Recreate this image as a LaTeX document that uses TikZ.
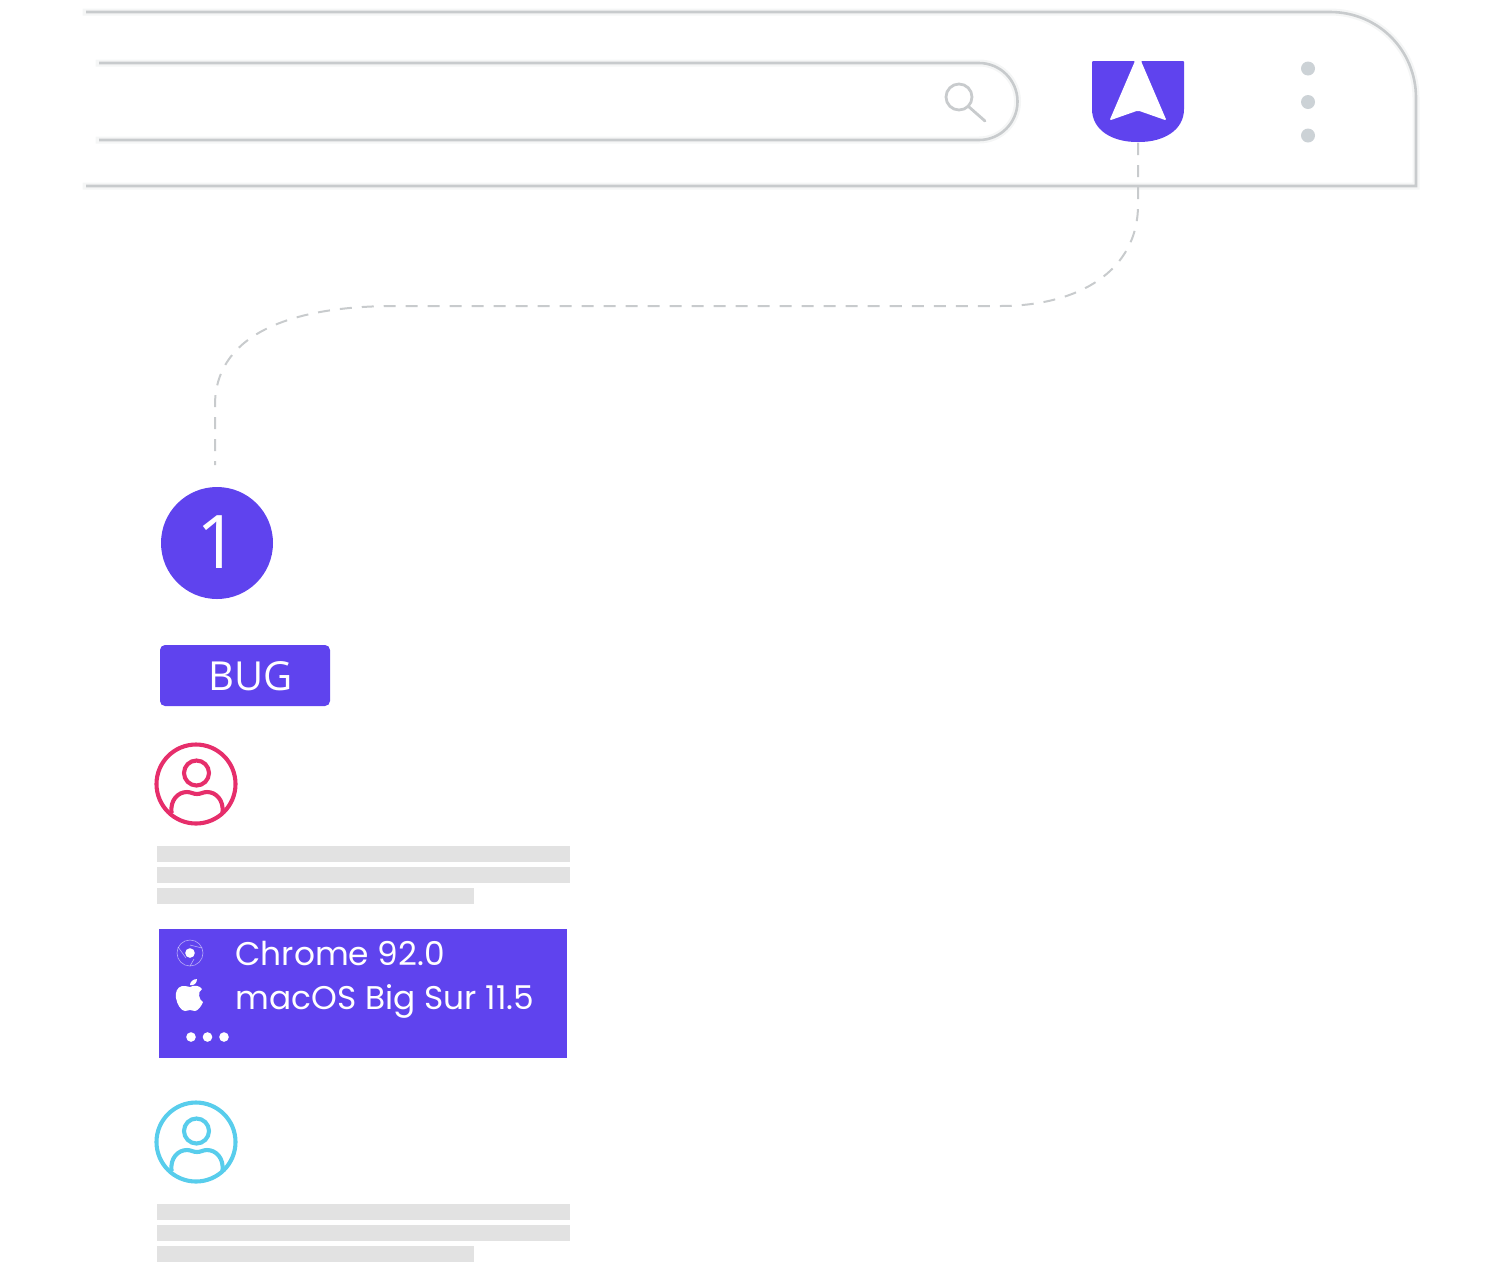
\documentclass[tikz,border=0pt]{standalone}
\usepackage{fontspec}
\setmainfont{Poppins}
\newfontfamily\tagfont{Open Sans}
\usetikzlibrary{positioning,calc}
\definecolor{bugpurple}{RGB}{95, 67, 238}
\definecolor{framegray}{RGB}{200, 203, 205}
\definecolor{halogray}{RGB}{245, 246, 246}
\definecolor{dotgray}{RGB}{204, 210, 214}
\definecolor{linegray}{RGB}{226, 226, 226}
\definecolor{reporterpink}{RGB}{230, 46, 107}
\definecolor{devblue}{RGB}{88, 205, 236}
\tikzset{
  frameline/.style={draw=framegray, line width=2.6pt, preaction={draw=halogray, line width=7pt, line cap=rect}},
  iconline/.style={draw=framegray, line width=2.8pt},
  menudot/.style={circle, fill=dotgray, minimum size=14pt, inner sep=0pt},
  whitedot/.style={circle, fill=white, minimum size=9.6pt, inner sep=0pt},
  textbar/.style={fill=linegray},
  envtext/.style={anchor=base west, text=white, font=\fontsize{32.8}{32.8}\selectfont},
  avatarline/.style={line width=4.1pt, fill=none}
}
\begin{document}
\begin{tikzpicture}[x=1pt, y=-1pt]
\useasboundingbox (0,0) rectangle (1509,1270);

% Browser frame
\draw[frameline] (86,12) -- (1330,12) .. controls (1378,12) and (1416,50) .. (1416,98) -- (1416,186) -- (86,186);

% Search field
\draw[frameline] (99,63) -- (979,63) arc[start angle=-90, end angle=90, radius=38.5] -- (99,140);
\draw[iconline] (959,97) circle[radius=13];
\draw[iconline, line cap=round] (968.5,106.5) -- (985,121);

% Logo
\node[minimum width=92pt, minimum height=82pt, inner sep=0pt] (logo) at (1138,102) {};
\fill[bugpurple, rounded corners=1pt] (1092,61) -- (1184,61) -- (1184,108) .. controls (1184,130) and (1164,142) .. (1138,142) .. controls (1112,142) and (1092,130) .. (1092,108) -- cycle;
\fill[white, rounded corners=1.5pt] (1133.5,56) -- (1142.5,56) -- (1141,61) -- (1166.5,120.5) -- (1138,110.5) -- (1109.5,120.5) -- (1135,61) -- cycle;

% Menu dots
\node[menudot] (menua) at (1308,68.5) {};
\node[menudot] (menub) at (1308,102) {};
\node[menudot] (menuc) at (1308,135.5) {};

% Step badge
\node[circle, fill=bugpurple, minimum size=112pt, inner sep=0pt] (stepone) at (217,543) {};
\node[anchor=base, inner sep=0pt, text=white, font=\tagfont\fontsize{74}{74}\selectfont] (stepnum) at (218,568) {1};
\coordinate (dashend) at (215,465);

% Dashed link
\draw[draw=framegray, line width=2pt, dash pattern=on 12pt off 10pt] (logo.south) -- (1138,205) .. controls (1138,270) and (1080,306) .. (1000,306) -- (395,306) .. controls (280,306) and (215,340) .. (215,405) -- (dashend);

% Tag
\node[fill=bugpurple, rounded corners=5pt, minimum width=170pt, minimum height=61pt, inner sep=0pt] (bugtag) at (245,675.5) {};
\node[anchor=base, inner sep=0pt, text=white, font=\tagfont\fontsize{40}{40}\selectfont] (bugtext) at (250.5,690.7) {BUG};

% First avatar
\draw[reporterpink, avatarline] (196,784) circle[radius=39.5];
\draw[reporterpink, avatarline] (196.5,773) circle[radius=12.5];
\draw[reporterpink, avatarline] (171.5,813) .. controls (170,800) and (178,792) .. (187,792) .. controls (191,792) and (193,794) .. (197,794) .. controls (201,794) and (203,792) .. (207,792) .. controls (216,792) and (224,800) .. (222.5,813);

% First text block
\fill[textbar] (157,846) rectangle (570,862);
\fill[textbar] (157,867) rectangle (570,883);
\fill[textbar] (157,888) rectangle (474,904);

% Environment box
\node[fill=bugpurple, minimum width=408pt, minimum height=129pt, inner sep=0pt] (envbox) at (363,993.5) {};
\node[envtext] (chrome) at (232,965) {Chrome 92.0};
\node[envtext] (macos) at (232,1009) {macOS Big Sur 11.5};
\draw[white, opacity=.55, line width=.6pt] (190,953) circle[radius=13];
\draw[white, opacity=.55, line width=.6pt] (178,947) -- (186,958) (194,959) -- (190,966) (190,945) -- (202,948);
\node[whitedot] (chromedot) at (190,953) {};
\fill[white] (190,987) .. controls (187,987) and (185,985) .. (182,986) .. controls (177,987) and (175,993) .. (176,998) .. controls (177,1004) and (181,1011) .. (185,1011) .. controls (187,1011) and (188,1010) .. (190,1010) .. controls (192,1010) and (193,1011) .. (195,1011) .. controls (198,1011) and (202,1005) .. (203,1002) .. controls (199,1000) and (197,992) .. (202,989) .. controls (199,985) and (194,985) .. (190,987) -- cycle;
\fill[white] (190,985) .. controls (190,982) and (193,979) .. (197,979) .. controls (197,983) and (194,986) .. (190,985) -- cycle;
\node[whitedot] (morea) at (191,1037) {};
\node[whitedot] (moreb) at (207.5,1037) {};
\node[whitedot] (morec) at (224,1037) {};

% Second avatar
\draw[devblue, avatarline] (196,1142) circle[radius=39.5];
\draw[devblue, avatarline] (196.5,1131) circle[radius=12.5];
\draw[devblue, avatarline] (171.5,1171) .. controls (170,1158) and (178,1150) .. (187,1150) .. controls (191,1150) and (193,1152) .. (197,1152) .. controls (201,1152) and (203,1150) .. (207,1150) .. controls (216,1150) and (224,1158) .. (222.5,1171);

% Second text block
\fill[textbar] (157,1204) rectangle (570,1220);
\fill[textbar] (157,1225) rectangle (570,1241);
\fill[textbar] (157,1246) rectangle (474,1262);

\end{tikzpicture}
\end{document}
